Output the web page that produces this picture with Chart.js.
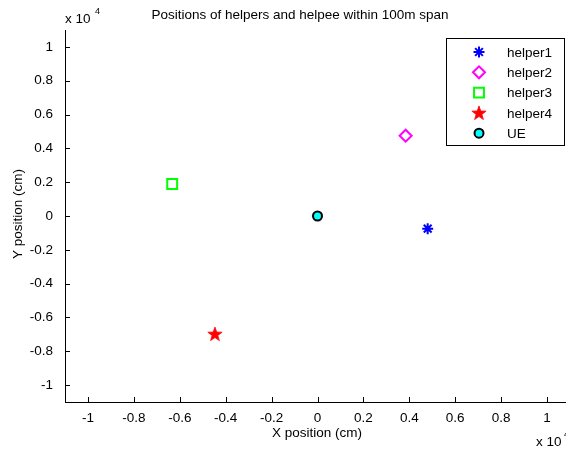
<!DOCTYPE html>
<html>
<head>
<meta charset="utf-8">
<script src="https://cdn.jsdelivr.net/npm/chart.js@4.4.1/dist/chart.umd.min.js"></script>
<style>
html,body{margin:0;padding:0;background:#fff;overflow:hidden;}
#wrap{width:600px;height:452px;}
</style>
</head>
<body>
<div id="wrap"><canvas id="c" width="600" height="452"></canvas></div>
<script>
// ---- data (cm) ----
const categories = ['helper1', 'helper2', 'helper3', 'helper4', 'UE'];
const xValues = [4800, 3840, -6330, -4470, 0];
const yValues = [-750, 4750, 1890, -6980, 0];
const xTickValues = [-10000, -8000, -6000, -4000, -2000, 0, 2000, 4000, 6000, 8000, 10000];
const yTickValues = [-10000, -8000, -6000, -4000, -2000, 0, 2000, 4000, 6000, 8000, 10000];
const titleText = 'Positions of helpers and helpee within 100m span';
const xTitle = 'X position (cm)';
const yTitle = 'Y position (cm)';

const FONT = '"Liberation Sans", Arial, sans-serif';
const FS = 13.5;

// red five-point star image
function makeStar() {
  const c = document.createElement('canvas');
  c.width = 16; c.height = 16;
  const g = c.getContext('2d');
  g.beginPath();
  for (let i = 0; i < 10; i++) {
    const r = i % 2 === 0 ? 7.5 : 3.0;
    const a = -Math.PI / 2 + i * Math.PI / 5;
    const px = 8 + r * Math.cos(a), py = 8.5 + r * Math.sin(a);
    if (i === 0) g.moveTo(px, py); else g.lineTo(px, py);
  }
  g.closePath();
  g.fillStyle = '#ff0000';
  g.fill();
  g.strokeStyle = '#ff0000';
  g.lineWidth = 0.8;
  g.stroke();
  return c;
}
const starImg = makeStar();

const styles = [
  {pointStyle: 'star', radius: 5.5, borderColor: '#0000ff', backgroundColor: '#0000ff', borderWidth: 2},
  {pointStyle: 'rectRot', radius: 6, borderColor: '#ff00ff', backgroundColor: 'rgba(0,0,0,0)', borderWidth: 2},
  {pointStyle: 'rect', radius: 7, borderColor: '#00ff00', backgroundColor: 'rgba(0,0,0,0)', borderWidth: 2},
  {pointStyle: starImg, radius: 7, borderColor: '#ff0000', backgroundColor: '#ff0000', borderWidth: 0},
  {pointStyle: 'circle', radius: 4.5, borderColor: '#000000', backgroundColor: '#00ffff', borderWidth: 2}
];

const datasets = categories.map((name, i) => ({
  label: name,
  data: [{x: xValues[i], y: yValues[i]}],
  pointStyle: styles[i].pointStyle,
  pointRadius: styles[i].radius,
  pointHoverRadius: styles[i].radius,
  pointBorderColor: styles[i].borderColor,
  pointBackgroundColor: styles[i].backgroundColor,
  pointBorderWidth: styles[i].borderWidth,
  borderColor: styles[i].borderColor,
  backgroundColor: styles[i].backgroundColor,
  showLine: false
}));

function fmt(v) { return parseFloat((v / 10000).toFixed(1)).toString(); }

const decor = {
  id: 'decor',
  afterDraw(chart) {
    const ctx = chart.ctx;
    const xs = chart.scales.x, ys = chart.scales.y;
    const a = chart.chartArea;
    ctx.save();
    // inward ticks
    ctx.strokeStyle = '#000';
    ctx.lineWidth = 1;
    ctx.beginPath();
    xTickValues.forEach(v => {
      const px = Math.round(xs.getPixelForValue(v)) + 0.5;
      ctx.moveTo(px, a.bottom);
      ctx.lineTo(px, a.bottom - 5);
    });
    yTickValues.forEach(v => {
      const py = Math.round(ys.getPixelForValue(v)) + 0.5;
      ctx.moveTo(a.left, py);
      ctx.lineTo(a.left + 5, py);
    });
    ctx.stroke();

    ctx.fillStyle = '#000';
    ctx.font = FS + 'px ' + FONT;
    ctx.textBaseline = 'middle';
    // title
    ctx.textAlign = 'center';
    ctx.fillText(titleText, 300, 15);
    // x title
    ctx.fillText(xTitle, 317, 433);
    // y title
    ctx.save();
    ctx.translate(18, 214);
    ctx.rotate(-Math.PI / 2);
    ctx.fillText(yTitle, 0, 0);
    ctx.restore();
    // exponent labels
    ctx.textAlign = 'left';
    ctx.fillText('x 10', 65, 19);
    ctx.fillText('x 10', 536, 442);
    ctx.font = '9px ' + FONT;
    ctx.fillText('4', 95, 12);
    ctx.fillText('4', 564, 435);

    // legend
    const lx = 446.5, ly = 38.5, lw = 118, lh = 107;
    ctx.fillStyle = '#fff';
    ctx.fillRect(lx, ly, lw, lh);
    ctx.strokeStyle = '#000';
    ctx.lineWidth = 1;
    ctx.strokeRect(lx, ly, lw, lh);
    ctx.font = FS + 'px ' + FONT;
    ctx.textAlign = 'left';
    ctx.textBaseline = 'middle';
    categories.forEach((name, i) => {
      const y = 52 + i * 20.3;
      const s = styles[i];
      ctx.save();
      ctx.fillStyle = s.backgroundColor;
      ctx.strokeStyle = s.borderColor;
      ctx.lineWidth = s.borderWidth;
      Chart.helpers.drawPoint(ctx, {pointStyle: s.pointStyle, radius: s.radius, rotation: 0, borderWidth: s.borderWidth}, 479, y);
      ctx.restore();
      ctx.fillStyle = '#000';
      ctx.fillText(name, 507, y + 1);
    });
    ctx.restore();
  }
};

new Chart(document.getElementById('c'), {
  type: 'scatter',
  data: {datasets},
  options: {
    responsive: false,
    animation: false,
    events: [],
    layout: {padding: {left: 0, top: 30, right: 30, bottom: 0}},
    plugins: {legend: {display: false}, title: {display: false}, tooltip: {enabled: false}},
    scales: {
      x: {
        type: 'linear',
        min: -11000, max: 11000,
        grid: {display: false},
        border: {display: true, color: '#000', width: 1},
        afterBuildTicks: s => { s.ticks = xTickValues.map(v => ({value: v})); },
        afterFit: s => { s.height = 50; },
        ticks: {
          color: '#000', font: {family: FONT, size: FS}, padding: 0,
          maxRotation: 0, autoSkip: false,
          callback: v => fmt(v)
        }
      },
      y: {
        type: 'linear',
        min: -11000, max: 11000,
        grid: {display: false},
        border: {display: true, color: '#000', width: 1},
        afterBuildTicks: s => { s.ticks = yTickValues.map(v => ({value: v})); },
        afterFit: s => { s.width = 65; },
        ticks: {
          color: '#000', font: {family: FONT, size: FS}, padding: 4,
          autoSkip: false,
          callback: v => fmt(v)
        }
      }
    }
  },
  plugins: [decor]
});
</script>
</body>
</html>
